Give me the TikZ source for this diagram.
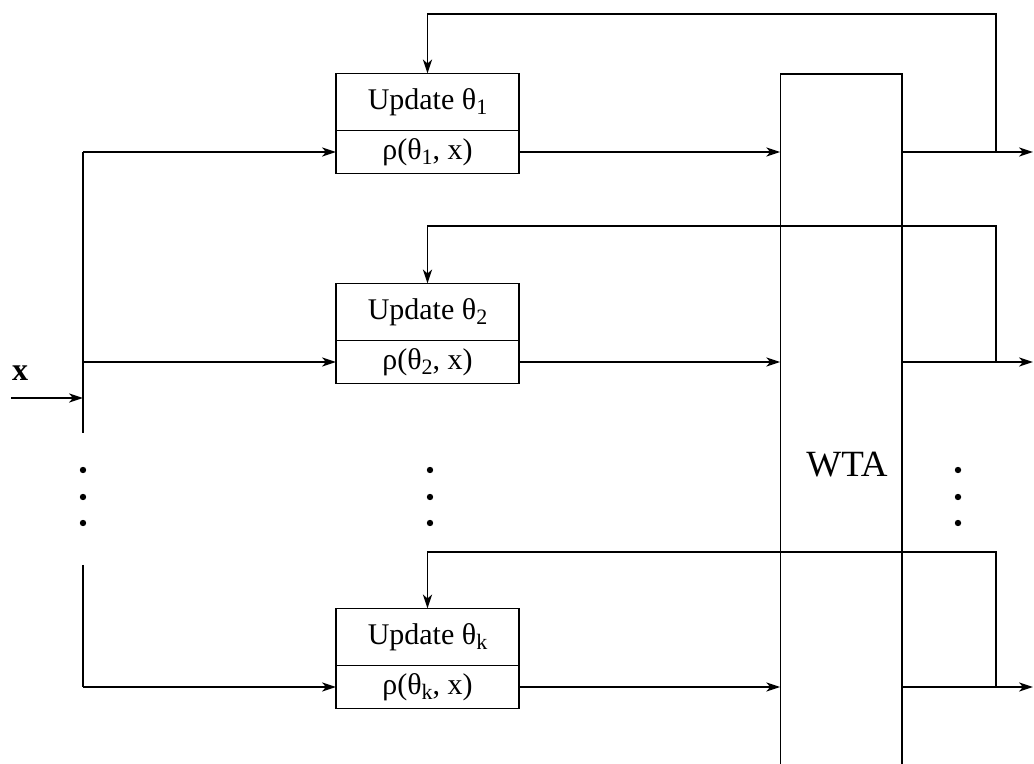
\documentclass[tikz,border=0pt]{standalone}
\usepackage{fontspec}
\setmainfont{Liberation Serif}
\usetikzlibrary{arrows.meta,positioning}
\newcommand{\lowidx}[1]{\raisebox{-0.35ex}{\fontsize{11}{12}\selectfont #1}}
\tikzset{
  sig/.style={-{Stealth[length=7pt,width=4.6pt,inset=2pt]}},
  updbox/.style={draw,minimum width=91.5pt,minimum height=28.5pt,inner sep=0pt,outer sep=0pt,font=\fontsize{15}{17}\selectfont},
  rhobox/.style={updbox,minimum height=21.5pt},
}

\begin{document}
\begin{tikzpicture}[x=0.5pt,y=-0.5pt,line width=0.75pt]
  \useasboundingbox (0,0) rectangle (1034,764);
  % winner-take-all block, open at the bottom
  \node[minimum width=60pt,minimum height=345pt,anchor=north,inner sep=0pt] (wta) at (841,74) {};
  \node[font=\fontsize{18.5}{20}\selectfont] (wtalab) at (847,465) {WTA};
  \draw (wta.south west) |- (wta.north east) -- (wta.south east);
  \coordinate (rim) at (1033,0);
  \coordinate (fbx) at (996,0);
  % input bus
  \node[font=\bfseries\fontsize{16}{18}\selectfont] (xlab) at (20,373) {x};
  \coordinate (xin) at (11,398);
  \coordinate (bus) at (83,398);
  \coordinate (bustop) at (83,152); \coordinate (busmid) at (83,433);
  \coordinate (buslow) at (83,565); \coordinate (busbot) at (83,687);
  \draw[sig] (xin) -- (bus);
  \draw (bustop) -- (busmid);
  \draw (buslow) -- (busbot);
  % one unit per prototype
  \foreach \n/\yy/\top in {1/152/14,2/362/226,k/687/552}{
    \node[rhobox] (r\n) at (427.5,\yy) {ρ(θ\lowidx{\n}, x)};
    \node[updbox,above=0pt of r\n] (u\n) {Update θ\lowidx{\n}};
    \draw[sig] (bustop |- r\n) -- (r\n.west);
    \draw[sig] (r\n.east) -- (r\n -| wta.west);
    \draw[sig] (r\n -| wta.east) -- (r\n -| rim);
    \coordinate (s\n) at (r\n -| fbx);
    \coordinate (c\n) at (996,\top);
    \draw[sig] (s\n) -- (c\n) -| (u\n.north);
  }
  \foreach \xx in {83,430,958}{
    \foreach \yy in {470,497,523}{\fill (\xx,\yy) circle (1.6pt);}
  }
\end{tikzpicture}
\end{document}
